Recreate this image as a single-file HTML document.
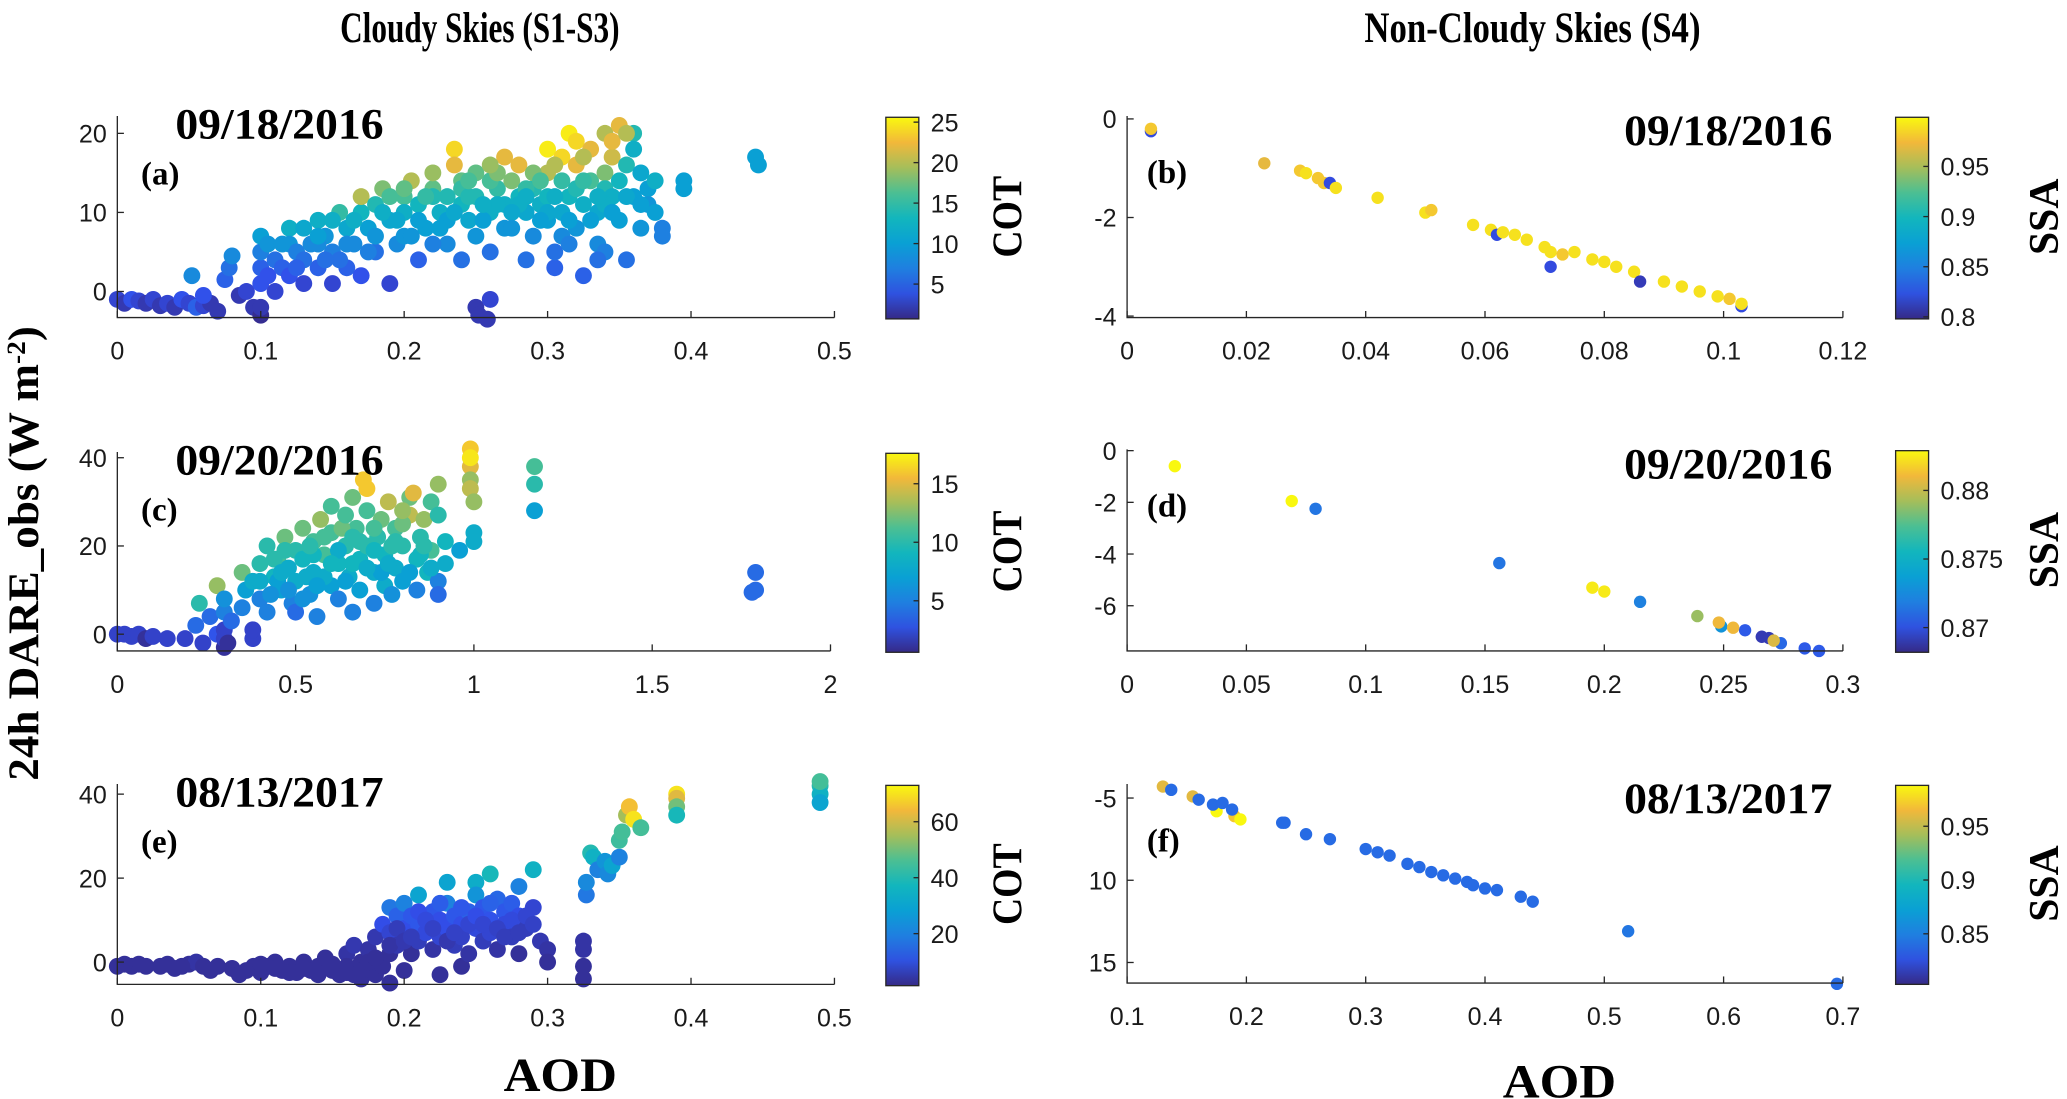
<!DOCTYPE html>
<html><head><meta charset="utf-8"><style>
html,body{margin:0;padding:0;background:#fff;}
svg{display:block;}
</style></head><body>
<svg id="fig" xmlns="http://www.w3.org/2000/svg" width="2067" height="1099" viewBox="0 0 1568 834" preserveAspectRatio="none">
<defs>
<linearGradient id="parula" x1="0" y1="1" x2="0" y2="0">
<stop offset="0" stop-color="#352a87"/><stop offset="0.125" stop-color="#2f52e0"/><stop offset="0.25" stop-color="#1f7fe0"/><stop offset="0.375" stop-color="#0aa0d4"/><stop offset="0.5" stop-color="#12b6bd"/><stop offset="0.625" stop-color="#4bbf93"/><stop offset="0.75" stop-color="#a5be5a"/><stop offset="0.875" stop-color="#f2b83a"/><stop offset="1" stop-color="#f9f80f"/>
</linearGradient>
</defs>
<text x="258" y="32" font-family="Liberation Serif, serif" font-weight="bold" font-size="33" textLength="212" lengthAdjust="spacingAndGlyphs">Cloudy Skies (S1-S3)</text>
<text x="1035" y="32" font-family="Liberation Serif, serif" font-weight="bold" font-size="33" textLength="255" lengthAdjust="spacingAndGlyphs">Non-Cloudy Skies (S4)</text>
<text transform="translate(29,420) rotate(-90)" text-anchor="middle" font-family="Liberation Serif, serif" font-weight="bold" font-size="33" textLength="345" lengthAdjust="spacingAndGlyphs">24h DARE_obs (W m<tspan dy="-10" font-size="20">-2</tspan><tspan dy="10">)</tspan></text>
<text x="425" y="828" text-anchor="middle" font-family="Liberation Serif, serif" font-weight="bold" font-size="36" textLength="86" lengthAdjust="spacingAndGlyphs">AOD</text>
<text x="1183" y="833" text-anchor="middle" font-family="Liberation Serif, serif" font-weight="bold" font-size="36" textLength="86" lengthAdjust="spacingAndGlyphs">AOD</text>
</svg>
<script>
// ---- data ----
const ptsA = [[0,-1,3],[0.005,-1.5,2],[0.01,-1,4],[0.015,-1.2,3],[0.02,-1.5,2],[0.025,-1,3],[0.03,-1.8,2],[0.035,-1.5,3],[0.04,-2,2],[0.045,-1,4],[0.05,-1.5,3],[0.055,-2,5],[0.06,-1.8,3],[0.065,-1.5,2],[0.07,-2.5,2],[0.052,2,8],[0.06,-0.5,4],[0.075,1.5,5],[0.078,3,6],[0.08,4.5,8],[0.085,-0.5,2],[0.09,0,3],[0.095,-2,2],[0.1,-3,1],[0.1,-2,2],
[0.1,1,4],[0.1,3,5],[0.1,5,7],[0.1,7,10],[0.105,2,4],[0.105,6,9],[0.11,4,6],[0.11,0,3],[0.115,3,5],[0.12,8,12],[0.12,6,9],[0.12,2,4],[0.125,5,7],[0.13,1,3],[0.13,8,11],[0.135,6,8],[0.14,3,5],[0.14,9,12],[0.145,7,9],[0.15,5,7],[0.15,1,3],[0.155,10,15],[0.16,8,11],[0.16,3,5],[0.165,6,8],[0.17,10,13],[0.17,12,20],[0.175,8,10],[0.18,5,6],[0.18,11,14],[0.185,13,18],[0.19,9,11],[0.19,1,3],[0.195,6,8],[0.2,12,16],[0.2,10,12],[0.2,7,9],[0.205,14,20],[0.21,11,13],[0.21,4,5],[0.215,8,10],[0.22,13,17],[0.22,15,19],[0.225,10,12],[0.23,6,8],[0.23,12,14],[0.235,18,24],[0.235,16,22],[0.24,11,13],[0.24,14,17],[0.245,9,11],[0.25,12,14],[0.25,7,9],[0.25,-2,2],[0.252,-3,2],[0.258,-3.5,2],[0.26,-1,3],[0.26,10,12],[0.265,13,15],[0.27,11,12],[0.27,8,9],[0.275,14,18],[0.28,12,13],[0.28,16,22],[0.285,10,11],[0.285,4,6],[0.29,13,14],[0.29,7,8],[0.295,11,12],[0.3,15,20],[0.3,18,25],[0.3,12,13],[0.3,9,10],[0.305,3,5],[0.305,5,6],[0.31,17,24],[0.31,14,15],[0.31,10,11],[0.315,12,13],[0.315,20,25],[0.32,16,22],[0.32,8,9],[0.32,19,24],[0.325,11,12],[0.325,2,5],[0.33,14,16],[0.33,18,22],[0.335,10,11],[0.335,6,8],[0.34,15,18],[0.34,13,14],[0.34,20,20],[0.345,12,12],[0.345,17,21],[0.35,14,13],[0.35,21,22],[0.35,9,10],[0.355,16,14],[0.355,4,6],[0.36,20,14],[0.36,18,12],[0.36,12,10],[0.365,15,11],[0.365,8,9],[0.37,13,10],[0.37,11,9],[0.375,14,12],[0.375,10,10],[0.38,8,7],[0.38,7,7],[0.395,14,10],[0.395,13,10],[0.445,17,10],[0.447,16,10],
[0.22,12,14],[0.26,14,16],[0.28,11,12],[0.29,15,18],[0.27,17,22],[0.24,13,15],[0.21,9,10],[0.18,7,9],[0.19,12,16],[0.15,9,12],[0.155,4,6],[0.14,6,8],[0.13,4,6],[0.33,9,10],[0.31,7,8],[0.34,11,12],[0.34,5,7],[0.23,9,10],[0.25,15,17],[0.3,10,11],[0.32,13,14],[0.26,5,6],[0.22,6,7],[0.24,4,6],[0.17,2,4],
[0.115,6,9],[0.125,3,5],[0.145,4,6],[0.165,9,12],[0.175,5,7],[0.185,10,12],[0.195,9,11],[0.205,7,9],[0.215,12,15],[0.225,8,10],[0.235,10,11],[0.245,12,14],[0.255,9,10],[0.265,11,12],[0.275,10,11],[0.285,13,15],[0.295,14,16],[0.305,12,12],[0.315,9,10],[0.325,14,15],[0.335,12,12],[0.345,10,10],[0.355,12,11],[0.365,11,10],[0.305,16,20],[0.325,17,20],[0.345,19,22],[0.355,20,20],[0.285,12,12],[0.265,15,18],[0.245,14,16],[0.255,11,12],[0.275,8,9],[0.295,9,10],[0.315,6,7],[0.335,4,6],[0.26,16,19],[0.2,13,17],[0.14,7,10],[0.16,6,8]];
const ptsC = [[0,0,2],[0.02,0,2],[0.04,-0.5,2],[0.06,0,2],[0.08,-1,1],[0.1,-0.5,2],[0.14,-1,2],[0.19,-1,2],[0.22,2,4],[0.23,7,10],[0.24,-2,2],[0.26,4,4],[0.28,11,13],[0.28,0,3],[0.3,-3,1],[0.3,-1,2],[0.3,1,2],[0.31,-2,1],[0.3,5,5],[0.3,8,6],[0.32,3,4],[0.35,6,5],[0.35,14,12],[0.36,10,7],[0.38,-1,2],[0.38,1,2],[0.38,12,8],[0.4,16,10],[0.4,8,5],[0.42,5,5],[0.42,20,10],[0.44,13,9],[0.45,17,11],[0.46,10,7],[0.47,22,12],[0.48,15,8],[0.49,7,5],[0.5,19,10],[0.5,12,8],[0.5,5,4],[0.52,24,12],[0.52,17,9],[0.54,9,6],[0.55,21,11],[0.55,14,8],[0.56,4,5],[0.57,26,13],[0.58,18,11],[0.6,11,7],[0.6,23,11],[0.6,29,11],[0.62,16,9],[0.62,8,5],[0.64,20,10],[0.65,13,8],[0.66,31,12],[0.66,5,5],[0.67,24,11],[0.68,17,9],[0.68,10,7],[0.69,35,16],[0.7,33,16],[0.7,28,11],[0.7,20,10],[0.72,14,8],[0.72,7,5],[0.73,22,10],[0.74,26,12],[0.75,18,9],[0.75,11,8],[0.76,30,14],[0.77,9,6],[0.78,24,11],[0.78,15,8],[0.8,20,10],[0.8,12,7],[0.82,31,12],[0.82,27,14],[0.83,32,15],[0.84,17,9],[0.84,10,5],[0.85,22,10],[0.86,26,13],[0.87,14,9],[0.88,19,11],[0.88,30,11],[0.9,34,13],[0.9,27,10],[0.9,12,5],[0.9,9,4],[0.92,21,9],[0.92,16,8],[0.96,19,7],[0.99,38,15],[0.99,42,16],[0.99,40,17],[0.99,35,13],[0.99,33,14],[1,30,13],[1,23,8],[1,21,8],[1.17,38,11],[1.17,34,10],[1.17,28,7],[1.79,14,4],[1.79,10,4],[1.78,9.5,4],
[0.45,12,7],[0.55,18,9],[0.58,13,8],[0.63,24,12],[0.68,21,10],[0.72,19,9],[0.77,20,10],[0.8,25,12],[0.85,18,9],[0.62,19,8],[0.53,13,8],[0.47,19,10],[0.43,9,6],[0.4,12,8],[0.66,16,9],[0.74,14,7],
[0.44,17,10],[0.48,10,6],[0.52,8,6],[0.56,11,7],[0.58,22,11],[0.64,12,7],[0.66,22,10],[0.7,15,8],[0.76,16,8],[0.78,21,10],[0.82,14,7],[0.86,20,10],[0.88,15,8],[0.6,16,9],[0.54,20,10],[0.46,14,8],[0.64,27,11],[0.72,24,11],[0.8,28,13]];
const ptsE = [[0,-1,3],[0.01,-1,3],[0.015,-0.5,3],[0.03,-1,3],[0.035,-0.5,3],[0.04,-1.5,3],[0.05,-0.5,3],[0.055,0,4],[0.06,-1,3],[0.065,-2,3],[0.08,-1.5,3],[0.085,-3,3],[0.095,-1,3],[0.1,-2.5,3],[0.105,-1,3],[0.11,0,3],[0.115,-2,3],[0.12,-1,3],[0.125,-2.5,3],[0.13,0,3],[0.135,-2,3],[0.14,-3,3],[0.14,-1,3],[0.145,1,3],[0.15,-2,3],[0.155,-3,3],[0.16,2,4],[0.16,-1,3],[0.165,-3,3],[0.165,4,5],[0.17,-4,3],[0.17,0,3],[0.175,3,4],[0.18,-3,3],[0.18,6,5],[0.185,-1,3],[0.185,9,10],[0.19,-5,3],[0.19,13,18],[0.19,2,3],[0.19,7,8],[0.195,11,14],[0.195,4,5],[0.2,14,20],[0.2,8,10],[0.2,-2,3],[0.205,11,12],[0.205,2,3],[0.21,5,6],[0.21,16,30],[0.21,9,12],[0.215,7,9],[0.22,12,12],[0.22,3,4],[0.225,-3,3],[0.225,10,10],[0.225,6,8],[0.23,19,30],[0.23,14,20],[0.23,8,10],[0.235,4,6],[0.235,11,12],[0.24,9,10],[0.24,6,7],[0.24,-1,3],[0.245,12,14],[0.245,2,4],[0.25,19,33],[0.25,16,25],[0.25,8,9],[0.255,13,12],[0.255,5,6],[0.26,21,38],[0.26,10,11],[0.26,7,8],[0.265,15,15],[0.265,3,4],[0.27,12,12],[0.27,9,9],[0.275,6,6],[0.275,14,13],[0.28,18,20],[0.28,11,10],[0.28,2,3],[0.285,8,6],[0.29,22,35],[0.29,13,8],[0.295,5,5],[0.3,3,4],[0.3,0,3],[0.325,5,4],[0.325,-1,3],[0.325,-4,3],[0.325,3,4],[0.327,16,18],[0.327,19,22],[0.33,26,40],[0.332,25,35],[0.335,22,20],[0.34,24,25],[0.342,21,22],[0.345,23,30],[0.35,25,20],[0.35,29,44],[0.352,31,45],[0.355,35,55],[0.357,37,65],[0.36,34,70],[0.365,32,45],[0.39,40,70],[0.39,39,62],[0.39,37,50],[0.39,35,38],[0.49,42,40],[0.49,40,35],[0.49,38,30],[0.49,43,45],
[0.005,-0.5,3],[0.02,-1,3],[0.045,-1,3],[0.07,-1,3],[0.09,-2,3],[0.1,-0.5,3],[0.11,-1.5,3],[0.12,-2.5,3],[0.13,-1.5,3],[0.15,-0.5,3],[0.16,-2.5,3],[0.17,-2,3],[0.175,0,3],[0.18,1,3],[0.19,4,4],[0.195,8,6],[0.2,5,5],[0.205,6,6],[0.21,12,10],[0.215,10,9],[0.22,8,7],[0.225,14,13],[0.23,5,5],[0.235,7,7],[0.24,13,12],[0.245,9,8],[0.25,11,10],[0.255,9,8],[0.26,14,14],[0.265,8,7],[0.27,6,6],[0.275,10,9],[0.28,7,6],[0.285,11,8],[0.29,9,7]];
const ptsB = [[0.004,-0.25,0.82],[0.004,-0.2,0.98],[0.023,-0.9,0.97],[0.029,-1.05,0.98],[0.03,-1.1,0.99],[0.032,-1.2,0.98],[0.033,-1.3,0.98],[0.034,-1.3,0.82],[0.035,-1.4,0.99],[0.042,-1.6,0.99],[0.05,-1.9,0.99],[0.051,-1.85,0.98],[0.058,-2.15,0.99],[0.061,-2.25,0.99],[0.062,-2.35,0.82],[0.063,-2.3,0.99],[0.065,-2.35,0.99],[0.067,-2.45,0.99],[0.07,-2.6,0.99],[0.071,-2.7,0.99],[0.071,-3.0,0.82],[0.073,-2.75,0.98],[0.075,-2.7,0.99],[0.078,-2.85,0.99],[0.08,-2.9,0.99],[0.082,-3.0,0.99],[0.085,-3.1,0.99],[0.086,-3.3,0.81],[0.09,-3.3,0.99],[0.093,-3.4,0.99],[0.096,-3.5,0.99],[0.099,-3.6,0.99],[0.101,-3.65,0.98],[0.103,-3.8,0.82],[0.103,-3.75,0.99]];
const ptsD = [[0.02,-0.6,0.883],[0.069,-1.95,0.883],[0.079,-2.25,0.8715],[0.156,-4.35,0.8715],[0.195,-5.3,0.8825],[0.2,-5.45,0.8825],[0.215,-5.85,0.872],[0.239,-6.4,0.879],[0.249,-6.8,0.873],[0.248,-6.65,0.881],[0.259,-6.95,0.8705],[0.254,-6.85,0.881],[0.266,-7.2,0.869],[0.269,-7.25,0.869],[0.274,-7.45,0.871],[0.271,-7.35,0.8805],[0.284,-7.65,0.8705],[0.29,-7.75,0.8705]];
const ptsF = [[0.13,-4.3,0.96],[0.137,-4.5,0.84],[0.155,-4.9,0.96],[0.16,-5.1,0.84],[0.175,-5.8,0.99],[0.172,-5.4,0.84],[0.18,-5.3,0.84],[0.19,-6.1,0.97],[0.195,-6.3,0.99],[0.188,-5.7,0.84],[0.23,-6.5,0.84],[0.232,-6.5,0.84],[0.25,-7.2,0.84],[0.27,-7.5,0.84],[0.3,-8.1,0.84],[0.31,-8.3,0.84],[0.32,-8.5,0.84],[0.335,-9.0,0.84],[0.345,-9.2,0.84],[0.355,-9.5,0.84],[0.365,-9.7,0.84],[0.375,-9.9,0.84],[0.385,-10.1,0.84],[0.39,-10.3,0.84],[0.4,-10.5,0.84],[0.41,-10.6,0.84],[0.43,-11.0,0.84],[0.44,-11.3,0.84],[0.52,-13.1,0.845],[0.695,-16.3,0.84]];

const xTicksA = [0,0.1,0.2,0.3,0.4,0.5];
const xTicksC = [0,0.5,1,1.5,2];
const xTicksB = [0,0.02,0.04,0.06,0.08,0.1,0.12];
const xTicksD = [0,0.05,0.1,0.15,0.2,0.25,0.3];
const xTicksF = [0.1,0.2,0.3,0.4,0.5,0.6,0.7];
const yTicksA = [0,10,20];
const yTicksCE = [0,20,40];
const yTicksB = [-4,-2,0];
const yTicksD = [-6,-4,-2,0];
const yTicksF = [-15,-10,-5];
const yTickLabelsF = ['15','10','-5'];
const cTicksA = [5,10,15,20,25];
const cTicksC = [5,10,15];
const cTicksE = [20,40,60];
const cTicksB = [0.8,0.85,0.9,0.95];
const cTicksD = [0.87,0.875,0.88];
const cTicksF = [0.85,0.9,0.95];

const panels = [
 {id:'a',L:89,R:633,T:88,B:241,xd:[0,0.5],yd:[-3.3,22.2],xt:xTicksA,yt:yTicksA,pts:ptsA,cd:[0.7,25.6],ct:cTicksA,cl:'COT',r:6.4,date:'09/18/2016',right:false},
 {id:'c',L:89,R:630,T:343,B:494,xd:[0,2],yd:[-3.8,41.3],xt:xTicksC,yt:yTicksCE,pts:ptsC,cd:[0.6,17.6],ct:cTicksC,cl:'COT',r:6.4,date:'09/20/2016',right:false},
 {id:'e',L:89,R:633,T:595,B:747,xd:[0,0.5],yd:[-5.3,42.4],xt:xTicksA,yt:yTicksCE,pts:ptsE,cd:[1.4,73],ct:cTicksE,cl:'COT',r:6.4,date:'08/13/2017',right:false},
 {id:'b',L:855,R:1398,T:88,B:241,xd:[0,0.12],yd:[-4.03,0.06],xt:xTicksB,yt:yTicksB,pts:ptsB,cd:[0.798,0.999],ct:cTicksB,cl:'SSA',r:4.7,date:'09/18/2016',right:true},
 {id:'d',L:855,R:1398,T:341,B:494,xd:[0,0.3],yd:[-7.75,0.05],xt:xTicksD,yt:yTicksD,pts:ptsD,cd:[0.8682,0.8829],ct:cTicksD,cl:'SSA',r:4.7,date:'09/20/2016',right:true},
 {id:'f',L:855,R:1398,T:595,B:746,xd:[0.1,0.7],yd:[-16.25,-4.15],xt:xTicksF,yt:yTicksF,ytl:yTickLabelsF,pts:ptsF,cd:[0.803,0.988],ct:cTicksF,cl:'SSA',r:4.7,date:'08/13/2017',right:true}
];

const stops=[[53,42,135],[50,78,235],[31,127,224],[10,160,212],[18,182,189],[75,191,147],[165,190,90],[242,184,58],[249,248,15]];
function parula(t){t=Math.max(0,Math.min(1,t));const p=t*(stops.length-1);const i=Math.min(stops.length-2,Math.floor(p));const f=p-i;const a=stops[i],b=stops[i+1];return 'rgb('+a.map((v,k)=>Math.round(v+(b[k]-v)*f)).join(',')+')';}
const NS='http://www.w3.org/2000/svg';
const svg=document.getElementById('fig');
function mk(tag,attrs,parent){const e=document.createElementNS(NS,tag);for(const k in attrs)e.setAttribute(k,attrs[k]);(parent||svg).appendChild(e);return e;}
const fmt=v=>String(+v.toFixed(4));

panels.forEach(p=>{
 const g=mk('g',{});
 
 
 const sx=v=>p.L+(v-p.xd[0])/(p.xd[1]-p.xd[0])*(p.R-p.L);
 const sy=v=>p.B-(v-p.yd[0])/(p.yd[1]-p.yd[0])*(p.B-p.T);
 p.pts.forEach(d=>{
  const c=mk('circle',{cx:sx(d[0]),cy:sy(d[1]),r:p.r,fill:parula((d[2]-p.cd[0])/(p.cd[1]-p.cd[0]))},g);
  
  
 });
 const ax=mk('path',{d:`M${p.L},${p.T}V${p.B}H${p.R}`,fill:'none',stroke:'#262626','stroke-width':1},g);
 
 
 p.xt.forEach(v=>{
  const x=sx(v);
  mk('line',{x1:x,x2:x,y1:p.B,y2:p.B-5,stroke:'#262626'},g);
  const t=mk('text',{x:x,y:p.B+32,'text-anchor':'middle','font-family':'Liberation Sans, sans-serif','font-size':19,fill:'#1a1a1a'},g);
  t.textContent=fmt(v);
  
  
 });
 p.yt.forEach((v,i)=>{
  const y=sy(v);
  mk('line',{x1:p.L,x2:p.L+5,y1:y,y2:y,stroke:'#262626'},g);
  const t=mk('text',{x:p.L-8,y:y+7,'text-anchor':'end','font-family':'Liberation Sans, sans-serif','font-size':19,fill:'#1a1a1a'},g);
  t.textContent=p.ytl?p.ytl[i]:fmt(v);
  
  
 });
 const cbL=p.right?1438:672, cbR=p.right?1463:697;
 const cb=mk('rect',{x:cbL,y:p.T+1,width:cbR-cbL,height:p.B-p.T,fill:'url(#parula)',stroke:'#262626','stroke-width':1},g);
 
 
 const cy=v=>p.B+1-(v-p.cd[0])/(p.cd[1]-p.cd[0])*(p.B-p.T);
 p.ct.forEach(v=>{
  const y=cy(v);
  mk('line',{x1:cbR-4,x2:cbR,y1:y,y2:y,stroke:'#262626'},g);
  const t=mk('text',{x:cbR+9,y:y+7,'font-family':'Liberation Sans, sans-serif','font-size':19,fill:'#1a1a1a'},g);
  t.textContent=fmt(v);
  
  
 });
 const lx=p.right?1550:764, ly=(p.T+p.B)/2;
 const cl=mk('text',{transform:`translate(${lx+11},${ly}) rotate(-90)`,'text-anchor':'middle','font-family':'Liberation Serif, serif','font-weight':'bold','font-size':32,textLength:p.right?58:62,lengthAdjust:'spacingAndGlyphs'},g);
 cl.textContent=p.cl;
 
 
 const dt=mk('text',{x:p.right?1390:133,y:p.T+(p.right?22:17),'text-anchor':p.right?'end':'start','font-family':'Liberation Serif, serif','font-weight':'bold','font-size':33,textLength:158,lengthAdjust:'spacingAndGlyphs'},g);
 dt.textContent=p.date;
 
 
 const lt=mk('text',{x:p.right?870:107,y:p.T+(p.right?51:52),'font-family':'Liberation Serif, serif','font-weight':'bold','font-size':25},g);
 lt.textContent='('+p.id+')';
 
 
});
</script>
</body></html>
